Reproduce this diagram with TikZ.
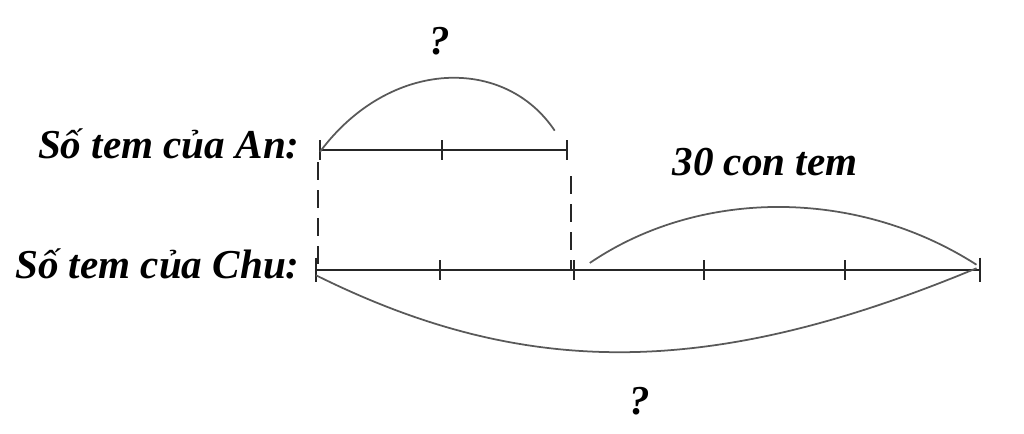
\documentclass[tikz,border=0pt]{standalone}
\usepackage{fontspec}
\setmainfont{Liberation Serif}
\usetikzlibrary{positioning}
\begin{document}
\begin{tikzpicture}[x=0.02cm, y=-0.02cm,
  seg/.style={line width=1pt, black!85},
  arcline/.style={line width=1pt, black!65},
  dashline/.style={line width=1pt, black!85, dash pattern=on 10pt off 6pt},
  lbl/.style={font=\fontsize{23.4}{28}\selectfont\bfseries\itshape, inner sep=0pt}]
  \useasboundingbox (0,0) rectangle (1024,433);
  % An's segment
  \coordinate (a0) at (320,150);
  \coordinate (a1) at (442,150);
  \coordinate (a2) at (567,150);
  % Chu's segment
  \coordinate (c0) at (316,270);
  \coordinate (c1) at (440,270);
  \coordinate (c2) at (574,270);
  \coordinate (c3) at (704,270);
  \coordinate (c4) at (845,270);
  \coordinate (c5) at (980,270);
  \draw[seg] (a0) -- (a2);
  \draw[seg] (c0) -- (c5);
  \foreach \p in {a0,a1,a2,c1,c2,c3,c4}
    \draw[seg] ([yshift=5.5pt]\p) -- ([yshift=-5.5pt]\p);
  \foreach \p in {c0,c5}
    \draw[seg] ([yshift=7pt]\p) -- ([yshift=-7pt]\p);
  % dashed guides
  \coordinate (d0) at (318,162);
  \coordinate (d1) at (571,176);
  \draw[dashline] (d0) -- (d0 |- c0);
  \draw[dashline] (d1) -- (d1 |- c0);
  % curved braces
  \draw[arcline] ([yshift=-1pt]a0) .. controls (390,58) and (505,56) .. ([xshift=-7pt,yshift=11pt]a2);
  \draw[arcline] ([xshift=9pt,yshift=4pt]c2) .. controls (700,188) and (857,188) .. ([xshift=-2pt,yshift=3pt]c5);
  \draw[arcline] ([yshift=-3pt]c0) .. controls (525,379) and (710,379) .. ([xshift=-2pt,yshift=1pt]c5);
  % labels
  \node[lbl, anchor=base east] (an) at (300,158) {Số tem của An:};
  \node[lbl, anchor=base east] (chu) at (300,278) {Số tem của Chu:};
  \node[lbl, anchor=base] (q1) at (440,54) {?};
  \node[lbl, anchor=base] (tem) at (765,175) {30 con tem};
  \node[lbl, anchor=base] (q2) at (640,414) {?};
\end{tikzpicture}
\end{document}
